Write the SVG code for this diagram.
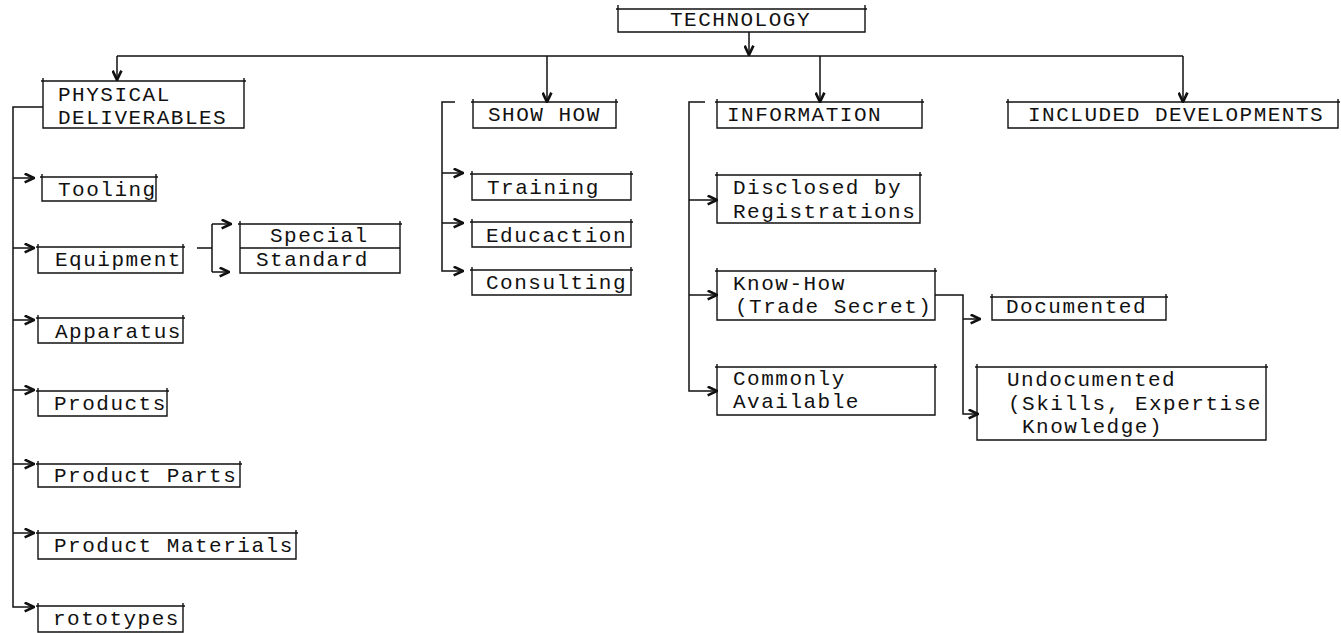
<svg xmlns="http://www.w3.org/2000/svg" width="1341" height="633" viewBox="0 0 1341 633">
<style>
.bx{fill:none;stroke:#111;stroke-width:1.4}
.cn{fill:none;stroke:#111;stroke-width:1.5}
text{font-family:"Liberation Mono","Courier New",monospace;font-size:21px;letter-spacing:1.5px;fill:#111}
</style>
<defs>
<marker id="ah" viewBox="0 0 10 10" refX="9.5" refY="5" markerWidth="11" markerHeight="11" markerUnits="userSpaceOnUse" orient="auto">
<path d="M1,1 L9.5,5 L1,9" fill="none" stroke="#111" stroke-width="2.4"/>
</marker>
</defs>
<rect width="1341" height="633" fill="#fff"/>
<g id="connectors" class="cn">
<path d="M749,32 V55" marker-end="url(#ah)"/>
<path d="M117,56 H1183"/>
<path d="M117,56 V80" marker-end="url(#ah)"/>
<path d="M547,56 V102" marker-end="url(#ah)"/>
<path d="M820,56 V102" marker-end="url(#ah)"/>
<path d="M1183,56 V102" marker-end="url(#ah)"/>
<path d="M43,107 H13 V607 H34" marker-end="url(#ah)"/>
<path d="M13,178 H34" marker-end="url(#ah)"/>
<path d="M13,248 H34" marker-end="url(#ah)"/>
<path d="M13,320 H34" marker-end="url(#ah)"/>
<path d="M13,390 H34" marker-end="url(#ah)"/>
<path d="M13,464 H34" marker-end="url(#ah)"/>
<path d="M13,533 H34" marker-end="url(#ah)"/>
<path d="M197,248 H212"/>
<path d="M212,224 V272"/>
<path d="M212,224 H231" marker-end="url(#ah)"/>
<path d="M212,272 H229" marker-end="url(#ah)"/>
<path d="M455,102 H442 V271 H463" marker-end="url(#ah)"/>
<path d="M442,173 H463" marker-end="url(#ah)"/>
<path d="M442,223 H463" marker-end="url(#ah)"/>
<path d="M705,102 H689 V391 H717" marker-end="url(#ah)"/>
<path d="M689,200 H717" marker-end="url(#ah)"/>
<path d="M689,295 H717" marker-end="url(#ah)"/>
<path d="M935,295 H963 V414 H978" marker-end="url(#ah)"/>
<path d="M963,319 H980" marker-end="url(#ah)"/>
</g>
<g id="technology"><path class="bx" d="M618,5 V32 H865 V5 M616,9 H867"/><text x="670" y="26">TECHNOLOGY</text></g>
<g id="physical"><path class="bx" d="M43,78 V128 H244 V78 M41,81 H246"/><text x="58" y="101">PHYSICAL</text><text x="58" y="124">DELIVERABLES</text></g>
<g id="showhow"><path class="bx" d="M473,99 V128 H616 V99 M471,102 H618"/><text x="488" y="121">SHOW HOW</text></g>
<g id="information"><path class="bx" d="M717,99 V128 H922 V99 M715,102 H924"/><text x="727" y="121">INFORMATION</text></g>
<g id="included"><path class="bx" d="M1008,99 V128 H1338 V99 M1006,102 H1340"/><text x="1028" y="121">INCLUDED DEVELOPMENTS</text></g>
<g id="tooling"><path class="bx" d="M42,174 V201 H156 V174 M40,177 H158"/><text x="58" y="196">Tooling</text></g>
<g id="equipment"><path class="bx" d="M38,244 V273 H183 V244 M36,247 H185"/><text x="55" y="266">Equipment</text></g>
<g id="special"><path class="bx" d="M240,221 V273 H400 V221 M238,224 H402 M240,248 H400"/><text x="270" y="242">Special</text></g>
<g id="standard"><text x="256" y="266">Standard</text></g>
<g id="apparatus"><path class="bx" d="M38,315 V343 H183 V315 M36,318 H185"/><text x="55" y="338">Apparatus</text></g>
<g id="products"><path class="bx" d="M38,388 V416 H167 V388 M36,391 H169"/><text x="54" y="410">Products</text></g>
<g id="productparts"><path class="bx" d="M38,461 V487 H240 V461 M36,464 H242"/><text x="54" y="482">Product Parts</text></g>
<g id="productmaterials"><path class="bx" d="M38,530 V559 H296 V530 M36,533 H298"/><text x="54" y="552">Product Materials</text></g>
<g id="prototypes"><path class="bx" d="M38,603 V632 H183 V603 M36,606 H185"/><text x="53" y="625">rototypes</text></g>
<g id="training"><path class="bx" d="M472,171 V200 H631 V171 M470,174 H633"/><text x="487" y="194">Training</text></g>
<g id="education"><path class="bx" d="M472,219 V247 H631 V219 M470,222 H633"/><text x="486" y="242">Educaction</text></g>
<g id="consulting"><path class="bx" d="M472,267 V295 H631 V267 M470,270 H633"/><text x="486" y="289">Consulting</text></g>
<g id="disclosed"><path class="bx" d="M717,172 V223 H920 V172 M715,175 H922"/><text x="733" y="194">Disclosed by</text><text x="733" y="218">Registrations</text></g>
<g id="knowhow"><path class="bx" d="M717,268 V320 H935 V268 M715,271 H937"/><text x="733" y="290">Know-How</text><text x="735" y="313">(Trade Secret)</text></g>
<g id="commonly"><path class="bx" d="M717,364 V415 H935 V364 M715,367 H937"/><text x="733" y="385">Commonly</text><text x="733" y="408">Available</text></g>
<g id="documented"><path class="bx" d="M992,294 V320 H1166 V294 M990,297 H1168"/><text x="1006" y="313">Documented</text></g>
<g id="undocumented"><path class="bx" d="M977,364 V440 H1266 V364 M975,367 H1268"/><text x="1007" y="386">Undocumented</text><text x="1008" y="410">(Skills, Expertise</text><text x="1022" y="433">Knowledge)</text></g>
</svg>
